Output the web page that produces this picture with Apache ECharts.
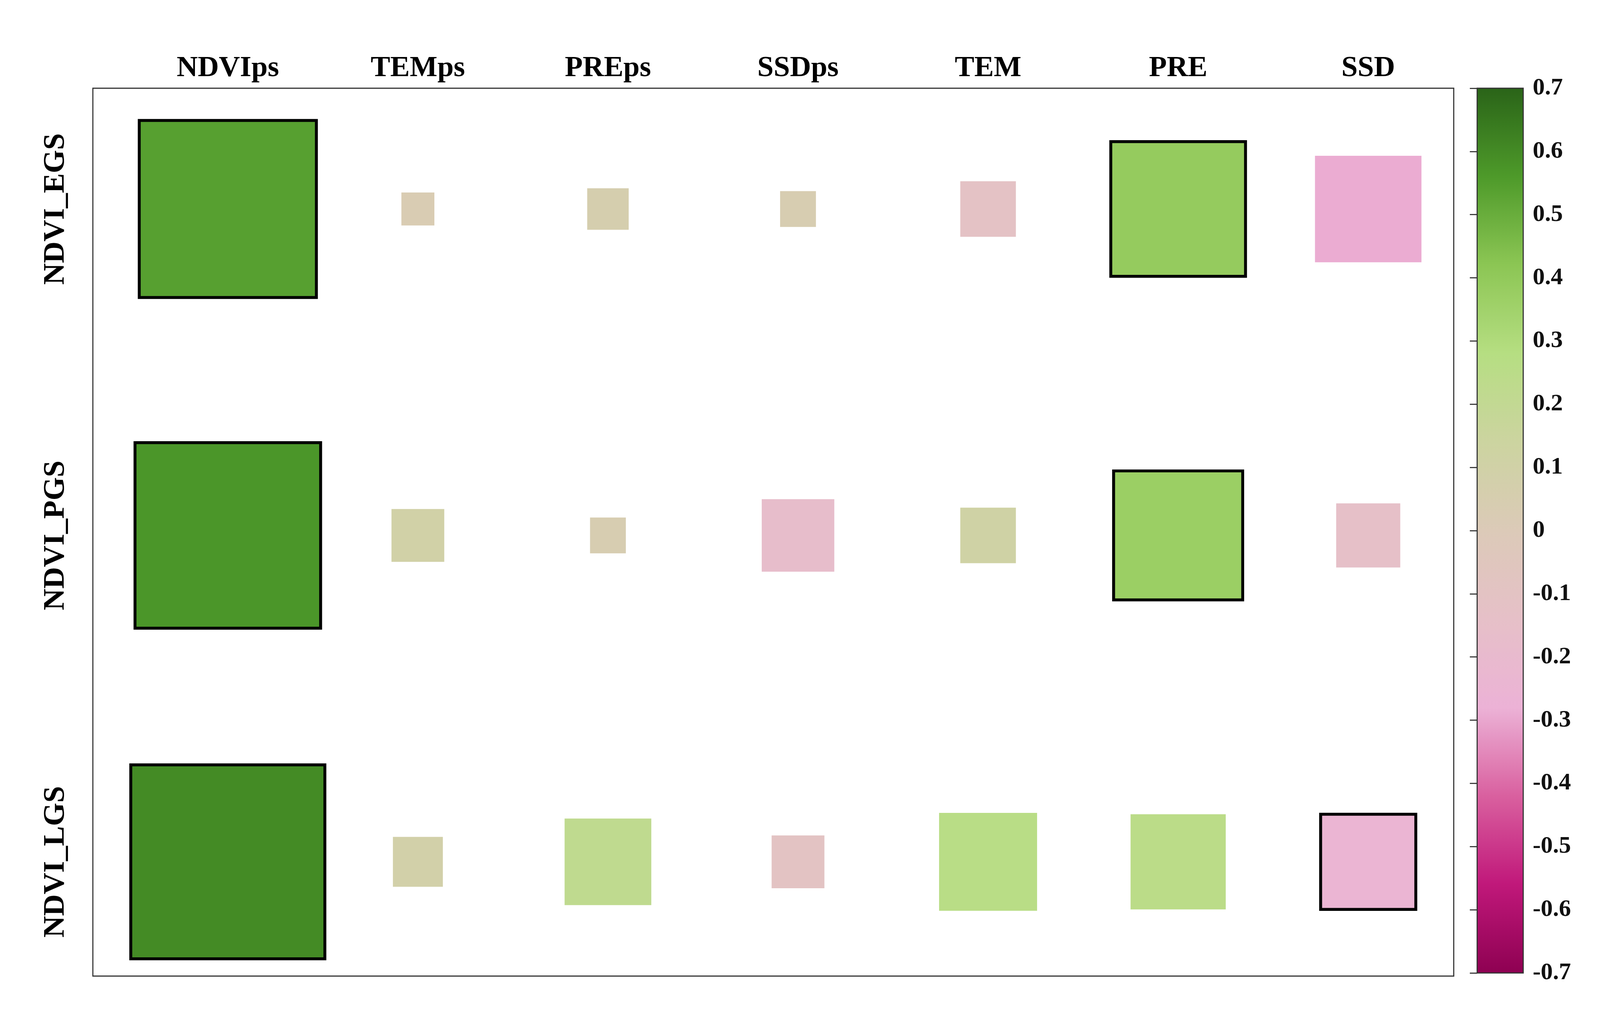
<!DOCTYPE html>
<html><head><meta charset="utf-8">
<script src="https://cdn.jsdelivr.net/npm/echarts@6/dist/echarts.min.js"></script>
<style>html,body{margin:0;padding:0;background:#fff;overflow:hidden}#c{width:100vw;height:100vh}</style>
</head><body><div id="c"></div>
<script>
const columns = ['NDVIps','TEMps','PREps','SSDps','TEM','PRE','SSD'];
const rows = ['NDVI_EGS','NDVI_PGS','NDVI_LGS'];
const egs = [0.54, 0.03, 0.06, 0.04, -0.11, 0.39, -0.29];
const pgs = [0.57, 0.10, 0.04, -0.17, 0.11, 0.37, -0.14];
const lgs = [0.60, 0.09, 0.22, -0.10, 0.26, 0.25, -0.25];
const significant = [[1,0,0,0,0,1,0],[1,0,0,0,0,1,0],[1,0,0,0,0,0,1]];
const colorTicks = [-0.7,-0.6,-0.5,-0.4,-0.3,-0.2,-0.1,0,0.1,0.2,0.3,0.4,0.5,0.6,0.7];

const rowVals = [egs, pgs, lgs];
const data = [];
rowVals.forEach((arr, r) => arr.forEach((v, c) => data.push([c, r, v, significant[r][c]])));

const W = window.innerWidth, H = window.innerHeight;
const s = W / 4376, sy = H / 2592;
const font = 'Liberation Serif';
const chart = echarts.init(document.getElementById('c'));
chart.setOption({
  backgroundColor: '#fff',
  grid: [
    {left: 254*s, top: 226*sy, width: 3722*s, height: 2274*sy, show: true, borderColor: '#333', borderWidth: 3*s},
    {left: 4040*s, top: 226*sy, width: 126*s, height: 2266*sy, show: true, borderColor: '#333', borderWidth: 3*s, backgroundColor: 'transparent', z: 10}
  ],
  xAxis: [
    {gridIndex: 0, type: 'value', position: 'top', min: -0.71, max: 6.45,
     splitLine: {show: false}, axisLine: {show: false},
     axisTick: {show: true, customValues: [0,1,2,3,4,5,6], length: 42*s, lineStyle: {color: '#333', width: 3*s}},
     axisLabel: {customValues: [0,1,2,3,4,5,6], formatter: v => columns[Math.round(v)] || '',
       fontFamily: font, fontWeight: 'bold', fontSize: 80*s, color: '#000', margin: 14*s}},
    {gridIndex: 1, type: 'value', show: false, min: 0, max: 1}
  ],
  yAxis: [
    {gridIndex: 0, type: 'value', inverse: true, min: -0.37, max: 2.35,
     splitLine: {show: false}, axisLine: {show: false},
     axisTick: {show: true, customValues: [0,1,2], length: 42*s, lineStyle: {color: '#333', width: 3*s}},
     axisLabel: {customValues: [0,1,2], formatter: v => rows[Math.round(v)] || '', rotate: 90,
       fontFamily: font, fontWeight: 'bold', fontSize: 82*s, color: '#000', margin: 60*s}},
    {gridIndex: 1, type: 'value', position: 'right', min: -0.7, max: 0.7, interval: 0.1,
     splitLine: {show: false}, axisLine: {show: false},
     axisTick: {show: true, inside: true, length: 20*s, lineStyle: {color: '#333', width: 3*s}},
     axisLabel: {formatter: v => String(Math.round(v*10)/10), fontFamily: font, fontWeight: 'bold',
       fontSize: 66*s, color: '#111', margin: 26*s}}
  ],
  visualMap: {
    type: 'continuous', min: -0.7, max: 0.7, dimension: 2, seriesIndex: 0,
    left: 4040*s, top: 226*sy, itemWidth: 126*s, itemHeight: 2266*sy, text: ['', ''], showLabel: false,
    calculable: false, hoverLink: false, realtime: false, padding: 0,
    inRange: {color: ['#8e0152','#c0187a','#d9609f','#ecb2d6','#e6c0c8','#dccab8','#ccd4a0','#b6de82','#8cc654','#4e9a2a','#2a6418']}
  },
  series: [{
    type: 'custom', xAxisIndex: 0, yAxisIndex: 0, data: data,
    renderItem: function (params, api) {
      const c = api.coord([api.value(0), api.value(1)]);
      const unit = api.size([1, 0])[0];
      const sz = unit * (0.129 + 1.487 * Math.abs(api.value(2)));
      const sig = api.value(3) === 1;
      return {type: 'rect', shape: {x: c[0] - sz/2, y: c[1] - sz/2, width: sz, height: sz},
        style: {fill: api.visual('color'), stroke: sig ? '#000' : null, lineWidth: sig ? 8*s : 0}};
    }
  }]
});
</script></body></html>
